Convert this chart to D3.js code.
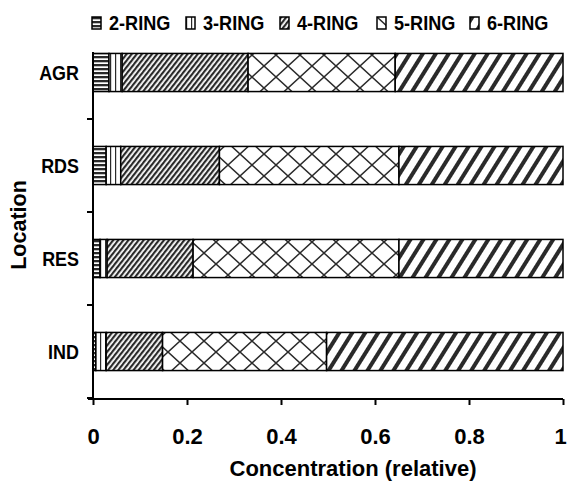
<!DOCTYPE html>
<html>
<head>
<meta charset="utf-8">
<script src="https://cdn.jsdelivr.net/npm/d3@7"></script>
<style>
  body { margin: 0; background: #fff; }
  text { font-family: "Liberation Sans", Arial, sans-serif; font-weight: bold; fill: #000; }
</style>
</head>
<body>
<script>
// locations, top to bottom
const locations = ["AGR", "RDS", "RES", "IND"];
const rings = ["2-RING", "3-RING", "4-RING", "5-RING", "6-RING"];

// relative concentration of each ring class per location
const ring2 = [0.034, 0.028, 0.015, 0.006];
const ring3 = [0.028, 0.031, 0.015, 0.022];
const ring4 = [0.268, 0.210, 0.183, 0.120];
const ring5 = [0.313, 0.382, 0.438, 0.349];
const ring6 = [0.357, 0.349, 0.349, 0.503];

const xTicks = [0, 0.2, 0.4, 0.6, 0.8, 1];

const width = 568, height = 484;

const rows = locations.map(function(loc, i) {
    return {loc: loc, "2-RING": ring2[i], "3-RING": ring3[i], "4-RING": ring4[i],
            "5-RING": ring5[i], "6-RING": ring6[i]};
});

const svg = d3.select("body").append("svg")
    .attr("width", width)
    .attr("height", height);

// hatch patterns
const defs = svg.append("defs");
const ink = "#2a2a2a";

function pattern(id, w, h, angle) {
    const p = defs.append("pattern")
        .attr("id", id)
        .attr("patternUnits", "userSpaceOnUse")
        .attr("width", w)
        .attr("height", h);
    if (angle) p.attr("patternTransform", "rotate(" + angle + ")");
    p.append("rect").attr("width", w).attr("height", h).attr("fill", "#fff");
    return p;
}

pattern("p2", 4, 4).append("rect").attr("width", 4).attr("height", 2.3).attr("fill", ink);
pattern("p3", 5, 5).append("rect").attr("width", 1.2).attr("height", 5).attr("fill", ink);
pattern("p4", 4, 4, 38).append("rect").attr("width", 2.2).attr("height", 4).attr("fill", ink);
const p5 = pattern("p5", 24, 22);
p5.append("path").attr("d", "M0,0L24,22M24,0L0,22")
    .attr("stroke", ink).attr("stroke-width", 1.5).attr("fill", "none");
pattern("p6", 11, 11, 32).append("rect").attr("width", 4).attr("height", 11).attr("fill", ink);

const fills = {"2-RING": "url(#p2)", "3-RING": "url(#p3)", "4-RING": "url(#p4)",
               "5-RING": "url(#p5)", "6-RING": "url(#p6)"};

const x = d3.scaleLinear().domain([0, 1]).range([93, 563]);
const y = d3.scaleBand().domain(locations).range([26, 398])
    .paddingInner(0.59).paddingOuter(0.295);

const stack = d3.stack().keys(rings)(rows);

svg.append("g")
    .selectAll("g")
    .data(stack)
    .join("g")
    .attr("fill", function(d) { return fills[d.key]; })
    .selectAll("rect")
    .data(function(d) { return d; })
    .join("rect")
    .attr("x", function(d) { return x(d[0]); })
    .attr("y", function(d) { return y(d.data.loc); })
    .attr("width", function(d) { return x(d[1]) - x(d[0]); })
    .attr("height", y.bandwidth())
    .attr("stroke", "#000")
    .attr("stroke-width", 1.5);

// y axis
const yAxis = svg.append("g").attr("stroke", "#000").attr("stroke-width", 2);
yAxis.append("line").attr("x1", 93).attr("x2", 93).attr("y1", 52).attr("y2", 400);
locations.forEach(function(loc) {
    const t = y(loc) + y.bandwidth() + y.step() * y.paddingInner() / 2;
    yAxis.append("line").attr("x1", 87).attr("x2", 93).attr("y1", t).attr("y2", t);
});

// slightly condensed bold text, like the original
svg.append("g")
    .selectAll("text")
    .data(locations)
    .join("text")
    .attr("transform", function(d) {
        return "translate(79," + (y(d) + y.bandwidth() / 2) + ") scale(0.92,1)";
    })
    .attr("dy", "0.36em")
    .attr("text-anchor", "end")
    .attr("font-size", 19.5)
    .text(function(d) { return d; });

// x axis
const xAxis = d3.axisBottom(x).tickValues(xTicks).tickSize(6).tickPadding(23)
    .tickFormat(function(d) { return d === 0 || d === 1 ? d : d.toFixed(1); });

const gx = svg.append("g").attr("transform", "translate(0,399)").call(xAxis);
gx.select(".domain").attr("stroke", "#000").attr("stroke-width", 2)
    .attr("d", "M88,0H563");
gx.selectAll(".tick line").attr("stroke", "#000").attr("stroke-width", 2);
gx.selectAll(".tick text").attr("font-size", 22).attr("font-family", null)
    .attr("dx", function(d) { return d === 1 ? -3 : 0; });

svg.append("text")
    .attr("transform", "translate(353,476)")
    .attr("text-anchor", "middle")
    .attr("font-size", 22)
    .text("Concentration (relative)");

svg.append("text")
    .attr("transform", "translate(26,225) rotate(-90)")
    .attr("text-anchor", "middle")
    .attr("font-size", 21.5)
    .text("Location");

// legend
const legendX = [92, 186, 280, 377, 470];
const legend = svg.append("g")
    .selectAll("g")
    .data(rings)
    .join("g")
    .attr("transform", function(d, i) { return "translate(" + legendX[i] + ",17)"; });

legend.append("rect")
    .attr("width", 9)
    .attr("height", 12)
    .attr("fill", function(d) { return fills[d]; })
    .attr("stroke", "#000")
    .attr("stroke-width", 1.5);

legend.append("text")
    .attr("transform", "translate(17,13) scale(0.93,1)")
    .attr("font-size", 19.5)
    .text(function(d) { return d; });
</script>
</body>
</html>
